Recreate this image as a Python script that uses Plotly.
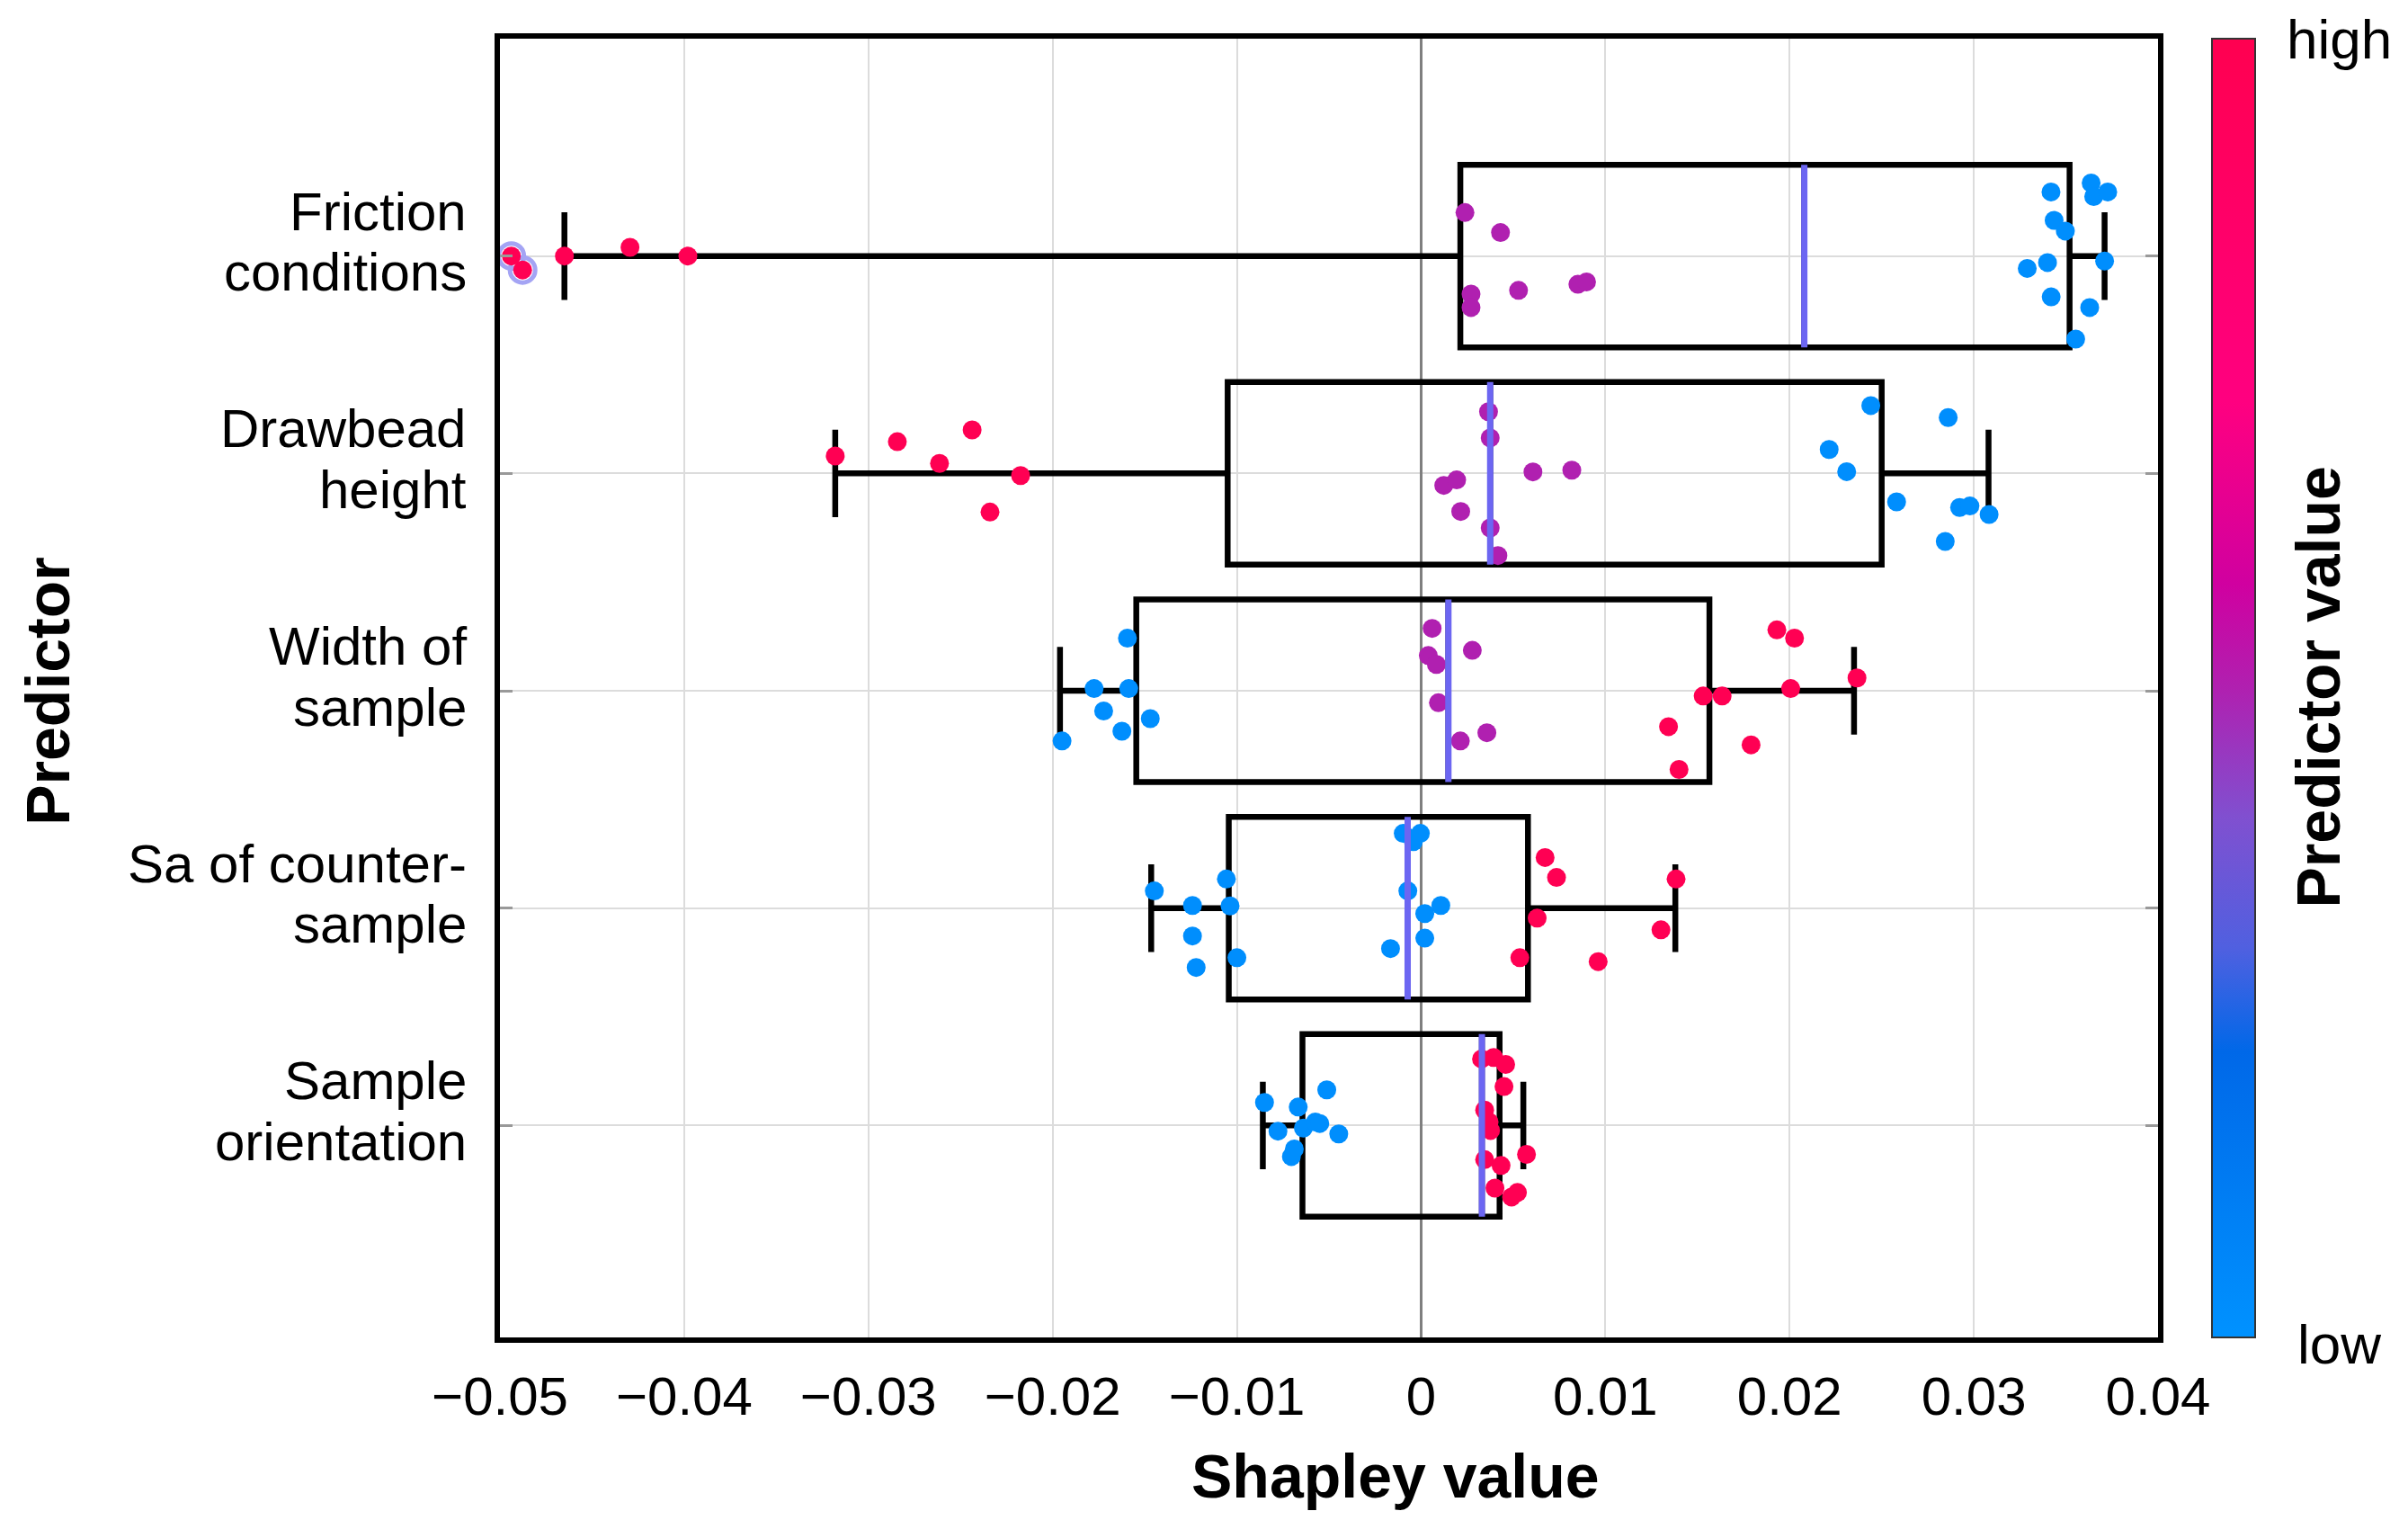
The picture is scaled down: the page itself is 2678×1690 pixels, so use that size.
import plotly.graph_objects as go

FONT = "Liberation Sans, Arial, sans-serif"

# ---------------- data ----------------
predictor_line1 = ["Friction", "Drawbead", "Width of", "Sa of counter-", "Sample"]
predictor_line2 = ["conditions", "height", "sample", "sample", "orientation"]

# box statistics (Shapley value)
lower_fence = [-0.0465, -0.0318, -0.0196, -0.01465, -0.00859]
q1_vals     = [0.00213, -0.0105, -0.01546, -0.01044, -0.00644]
median_vals = [0.0208, 0.00375, 0.00148, -0.00073, 0.0033]
q3_vals     = [0.0352, 0.0250, 0.01565, 0.0058, 0.00426]
upper_fence = [0.0371, 0.0308, 0.0235, 0.0138, 0.00555]

# points: Shapley value, vertical jitter, predictor value (0 low .. 1 high)
friction_shap = [-0.04938, -0.04877, -0.0465, -0.04294, -0.0398,
                 0.00238, 0.00431, 0.00271, 0.00271, 0.00529, 0.00851, 0.00898,
                 0.03419, 0.03637, 0.03651, 0.03727, 0.03436, 0.03497, 0.0329, 0.0340,
                 0.0371, 0.0342, 0.03629, 0.03553]
friction_jit = [0.0, 0.064, 0.0, -0.04, 0.0,
                -0.20, -0.108, 0.175, 0.237, 0.158, 0.130, 0.119,
                -0.295, -0.336, -0.274, -0.295, -0.164, -0.115, 0.057, 0.030,
                0.023, 0.188, 0.237, 0.382]
friction_pv = [0.98] * 5 + [0.5] * 7 + [0.02] * 12

drawbead_shap = [-0.0318, -0.02843, -0.02614, -0.02437, -0.02174, -0.0234,
                 0.00366, 0.00375, 0.00607, 0.00818, 0.00123, 0.00193, 0.00215, 0.00375, 0.00417,
                 0.02441, 0.02861, 0.02215, 0.0231, 0.02581, 0.02923, 0.02979, 0.03083, 0.02845]
drawbead_jit = [-0.08, -0.146, -0.046, -0.20, 0.01, 0.178,
                -0.284, -0.163, -0.007, -0.015, 0.055, 0.03, 0.175, 0.251, 0.378,
                -0.312, -0.257, -0.11, -0.008, 0.131, 0.157, 0.15, 0.189, 0.313]
drawbead_pv = [0.98] * 6 + [0.5] * 9 + [0.02] * 9

width_shap = [-0.01594, -0.01775, -0.01587, -0.01723, -0.0147, -0.01624, -0.01949,
              0.0006, 0.00039, 0.00083, 0.00278, 0.00094, 0.00357, 0.00213,
              0.01931, 0.02027, 0.02366, 0.02006, 0.01531, 0.01634, 0.01343, 0.01791, 0.014]
width_jit = [-0.242, -0.01, -0.01, 0.093, 0.128, 0.186, 0.231,
             -0.287, -0.162, -0.121, -0.186, 0.055, 0.193, 0.231,
             -0.28, -0.242, -0.059, -0.01, 0.024, 0.024, 0.165, 0.249, 0.362]
width_pv = [0.02] * 7 + [0.5] * 7 + [0.98] * 9

sa_shap = [-0.01448, -0.01241, -0.01057, -0.01037, -0.01241, -0.0100, -0.01221,
           -0.00097, -0.00004, -0.00042, -0.00072, 0.00107, 0.0002, 0.0002, -0.00166,
           0.00673, 0.00735, 0.01384, 0.0063, 0.01302, 0.00536, 0.00961]
sa_jit = [-0.079, -0.012, -0.134, -0.01, 0.128, 0.228, 0.273,
          -0.344, -0.344, -0.306, -0.079, -0.012, 0.025, 0.138, 0.186,
          -0.233, -0.141, -0.134, 0.046, 0.1, 0.228, 0.246]
sa_pv = [0.02] * 15 + [0.98] * 7

orient_shap = [-0.0085, -0.00667, -0.00512, -0.00777, -0.00639, -0.00574, -0.0055, -0.00447,
               -0.00704, -0.00688,
               0.00328, 0.00394, 0.00459, 0.0045, 0.00345, 0.00369, 0.00377, 0.00345, 0.00434,
               0.00572, 0.00401, 0.00491, 0.00523]
orient_jit = [-0.106, -0.085, -0.164, 0.026, 0.012, -0.016, -0.009, 0.039, 0.143, 0.108,
              -0.306, -0.313, -0.281, -0.179, -0.071, -0.016, 0.023, 0.157, 0.184,
              0.133, 0.288, 0.329, 0.308]
orient_pv = [0.02] * 10 + [0.98] * 13

x_ticks = [-0.05, -0.04, -0.03, -0.02, -0.01, 0, 0.01, 0.02, 0.03, 0.04]
x_ticktext = ["\u22120.05", "\u22120.04", "\u22120.03", "\u22120.02", "\u22120.01",
              "0", "0.01", "0.02", "0.03", "0.04"]

point_sets = [
    (friction_shap, friction_jit, friction_pv),
    (drawbead_shap, drawbead_jit, drawbead_pv),
    (width_shap, width_jit, width_pv),
    (sa_shap, sa_jit, sa_pv),
    (orient_shap, orient_jit, orient_pv),
]

# ---------------- styles ----------------
colorscale = [
    [0.0, "#0092ff"], [0.22, "#0068e8"], [0.30, "#5060e0"], [0.40, "#8050d0"],
    [0.50, "#b020b0"], [0.58, "#d000a0"], [0.72, "#ff0080"], [1.0, "#ff0050"],
]
BOX_W = 0.84
MEDIAN_COLOR = "#6c66f2"
OUT_TOL = 0.001

fig = go.Figure()

positions = list(range(len(point_sets)))

# boxes
fig.add_trace(go.Box(
    y=positions, q1=q1_vals, median=median_vals, q3=q3_vals,
    lowerfence=lower_fence, upperfence=upper_fence,
    orientation="h", width=BOX_W, whiskerwidth=0.48,
    line=dict(color="black", width=6.5), fillcolor="rgba(0,0,0,0)",
    boxpoints=False, showlegend=False, hoverinfo="skip",
))

# outlier rings (points clearly beyond the whiskers)
out_x, out_y = [], []
for i, (xs, js, pv) in enumerate(point_sets):
    for x, j in zip(xs, js):
        if x < lower_fence[i] - OUT_TOL or x > upper_fence[i] + OUT_TOL:
            out_x.append(x)
            out_y.append(i + j)
fig.add_trace(go.Scatter(
    x=out_x, y=out_y, mode="markers",
    marker=dict(size=28, color="rgba(0,0,0,0)", line=dict(color="#a4a4f4", width=5)),
    showlegend=False, hoverinfo="skip",
))

# points
for i, (xs, js, pv) in enumerate(point_sets):
    fig.add_trace(go.Scatter(
        x=xs, y=[i + j for j in js], mode="markers",
        marker=dict(size=21, color=pv, colorscale=colorscale, cmin=0, cmax=1,
                    showscale=(i == 0),
                    colorbar=dict(thickness=48, thicknessmode="pixels", len=1, lenmode="fraction",
                                  x=1.0325, xanchor="left", y=0.5, yanchor="middle",
                                  xpad=0, ypad=0, outlinewidth=2, outlinecolor="#333333",
                                  showticklabels=False, ticks="")),
        showlegend=False,
    ))

# median lines
for i, m in enumerate(median_vals):
    fig.add_trace(go.Scatter(
        x=[m, m], y=[i - BOX_W / 2, i + BOX_W / 2], mode="lines",
        line=dict(color=MEDIAN_COLOR, width=7), showlegend=False, hoverinfo="skip",
    ))

annotations = [
    dict(text="<b>Shapley value</b>", xref="paper", yref="paper", x=0.5404, y=-0.1067,
         xanchor="center", yanchor="middle", showarrow=False, font=dict(size=68, family=FONT)),
    dict(text="<b>Predictor</b>", xref="paper", yref="paper", x=-0.2726, y=0.4976,
         xanchor="center", yanchor="middle", textangle=-90, showarrow=False,
         font=dict(size=68, family=FONT)),
    dict(text="<b>Predictor value</b>", xref="paper", yref="paper", x=1.0965, y=0.501,
         xanchor="center", yanchor="middle", textangle=-90, showarrow=False,
         font=dict(size=68, family=FONT)),
    dict(text="high", xref="paper", yref="paper", x=1.1095, y=1.0,
         xanchor="center", yanchor="middle", showarrow=False, font=dict(size=62, family=FONT)),
    dict(text="low", xref="paper", yref="paper", x=1.1095, y=-0.0055,
         xanchor="center", yanchor="middle", showarrow=False, font=dict(size=62, family=FONT)),
]
# category labels (two lines each, right aligned next to the axis)
for i, (l1, l2) in enumerate(zip(predictor_line1, predictor_line2)):
    annotations.append(dict(text=l1, xref="paper", yref="y", x=-0.019, y=i - 0.205,
                            xanchor="right", yanchor="middle", showarrow=False,
                            font=dict(size=60, family=FONT)))
    annotations.append(dict(text=l2, xref="paper", yref="y", x=-0.019, y=i + 0.075,
                            xanchor="right", yanchor="middle", showarrow=False,
                            font=dict(size=60, family=FONT)))

fig.update_layout(
    width=2678, height=1690,
    margin=dict(l=556, r=278, t=43, b=203),
    paper_bgcolor="white", plot_bgcolor="white",
    font=dict(family=FONT, color="black", size=60),
    xaxis=dict(range=[-0.05, 0.04], tickvals=x_ticks, ticktext=x_ticktext,
               showgrid=True, gridcolor="#dcdcdc", gridwidth=2,
               zeroline=True, zerolinecolor="#7f7f7f", zerolinewidth=2.5,
               showline=True, linecolor="black", linewidth=6, mirror=True,
               ticks="", ticklabelstandoff=8, tickfont=dict(size=60, family=FONT)),
    yaxis=dict(range=[4.975, -1.0], tickvals=positions, showticklabels=False,
               showgrid=True, gridcolor="#dcdcdc", gridwidth=2, zeroline=False,
               showline=True, linecolor="black", linewidth=6, mirror="ticks",
               ticks="inside", ticklen=14, tickwidth=3, tickcolor="#999999"),
    annotations=annotations,
)

fig.write_html("out.html")
